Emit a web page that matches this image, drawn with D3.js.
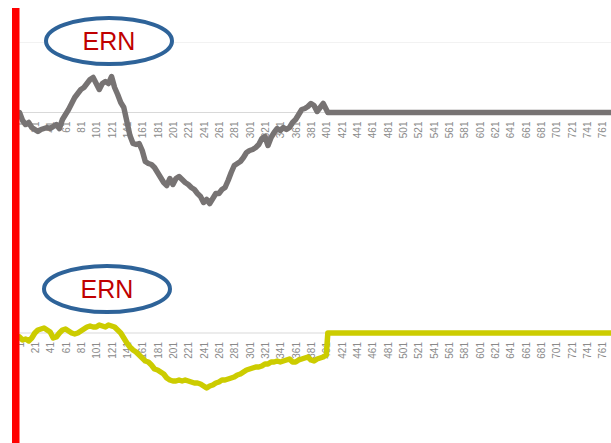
<!DOCTYPE html>
<html>
<head>
<meta charset="utf-8">
<script src="https://cdn.jsdelivr.net/npm/d3@7"></script>
<style>
  body { margin: 0; background: #fff; }
  svg { display: block; }
</style>
</head>
<body>
<div id="chart"></div>
<script>
// sample index (every 4th point of the waveform, 1..401)
const sampleIdx = d3.range(1, 402, 4);

// top waveform (grey)
const topValues = [0.0,-0.8,-1.2,-1.0,-1.5,-1.7,-1.9,-1.7,-1.6,-1.5,-1.6,-1.4,-1.2,-1.6,-0.7,-0.2,0.3,0.9,1.5,1.9,
  2.3,2.5,2.9,3.3,3.5,2.9,2.3,2.9,3.1,2.9,3.6,2.5,1.8,1.0,0.5,-0.9,-2.3,-3.1,-3.2,-3.1,
  -3.8,-4.9,-5.1,-5.2,-5.5,-6.0,-6.5,-7.0,-7.3,-6.6,-7.2,-6.6,-6.4,-6.7,-7.0,-7.2,-7.5,-7.7,-8.1,-8.4,
  -9.0,-8.7,-9.1,-8.6,-8.1,-8.1,-7.7,-7.5,-6.8,-6.0,-5.3,-5.1,-4.9,-4.5,-4.0,-3.8,-3.7,-3.5,-3.2,-2.6,
  -2.4,-3.3,-2.5,-2.0,-1.6,-1.8,-1.5,-1.7,-1.5,-1.0,-0.7,-0.2,0.3,0.4,0.6,0.9,0.7,0.1,0.5,0.9,0.3];

// bottom waveform (yellow)
const bottomValues = [-0.4,-0.7,-0.6,-0.8,-0.5,0.0,0.3,0.4,0.5,0.3,0.1,-0.5,-0.4,0.0,0.3,0.4,0.2,0.0,-0.1,0.0,
  0.2,0.4,0.6,0.7,0.6,0.6,0.8,0.7,0.6,0.8,0.7,0.6,0.3,0.0,-0.5,-1.0,-1.4,-1.7,-1.9,-2.2,
  -2.5,-2.8,-2.9,-3.2,-3.6,-3.7,-3.9,-4.1,-4.5,-4.7,-4.8,-4.8,-4.7,-4.8,-4.7,-4.8,-4.9,-5.0,-5.0,-5.1,
  -5.3,-5.5,-5.3,-5.2,-5.0,-4.9,-4.7,-4.7,-4.6,-4.5,-4.4,-4.2,-4.1,-3.9,-3.7,-3.6,-3.5,-3.4,-3.4,-3.3,
  -3.1,-3.1,-2.9,-2.9,-2.8,-2.9,-2.8,-2.7,-2.6,-2.9,-2.9,-2.7,-2.6,-2.5,-2.4,-2.7,-2.8,-2.6,-2.5,-2.4,-2.2];

// flat tail after the epoch
const tailIdx = [403, 800];
const tailValues = [0, 0];

// category tick labels
const tickLabels = d3.range(1, 762, 20);

const panelTitle = 'ERN';

const width = 611, height = 443;
const svg = d3.select('#chart').append('svg')
  .attr('width', width).attr('height', height)
  .style('font-family', 'Liberation Sans, Arial, sans-serif');

const x = d3.scaleLinear().domain([1, 781]).range([19.5, 19.5 + 780 * 0.767]);

function drawPanel(values, color, yDomain, yRange, ellipse, grid) {
  const y = d3.scaleLinear().domain(yDomain).range(yRange);
  const g = svg.append('g');

  if (grid) {
    g.append('line')
      .attr('x1', x(1)).attr('x2', width)
      .attr('y1', y(yDomain[1])).attr('y2', y(yDomain[1]))
      .attr('stroke', '#f2f2f2').attr('stroke-width', 1);
  }

  const axis = d3.axisBottom(x).tickValues(tickLabels).tickSize(0).tickFormat(d3.format('d'));
  const ax = g.append('g').attr('transform', `translate(0,${y(0)})`).call(axis);
  ax.select('.domain').attr('stroke', '#d9d9d9').attr('d', `M${x(1)},0H${width}`);
  ax.selectAll('text')
    .attr('transform', 'rotate(-90)')
    .attr('x', -9).attr('y', 0).attr('dy', '0.35em')
    .attr('text-anchor', 'end')
    .attr('fill', '#8a8a8a')
    .style('font-size', '10px');

  const pts = sampleIdx.map((d, i) => [d, values[i]])
    .concat(tailIdx.map((d, i) => [d, tailValues[i]]));
  const line = d3.line().x(d => x(d[0])).y(d => y(d[1]));
  g.append('path').datum(pts)
    .attr('d', line)
    .attr('fill', 'none')
    .attr('stroke', color)
    .attr('stroke-width', 5.5)
    .attr('stroke-linejoin', 'round')
    .attr('stroke-linecap', 'round');

  g.append('ellipse')
    .attr('cx', ellipse.cx).attr('cy', ellipse.cy)
    .attr('rx', 63).attr('ry', 23)
    .attr('fill', '#fff')
    .attr('stroke', '#2e6399')
    .attr('stroke-width', 4);
  g.append('text')
    .attr('x', ellipse.cx).attr('y', ellipse.cy)
    .attr('dy', '0.36em')
    .attr('text-anchor', 'middle')
    .attr('fill', '#c00000')
    .style('font-size', '25px')
    .style('font-weight', '500')
    .text(panelTitle);
}

drawPanel(topValues, '#777373', [-10, 7], [212.5, 42.5], { cx: 109, cy: 41 }, true);
drawPanel(bottomValues, '#cccc00', [-6, 3], [393, 303], { cx: 107, cy: 289 }, false);

// red marker bar
svg.append('rect')
  .attr('x', 12).attr('y', 8)
  .attr('width', 7.5).attr('height', height - 8)
  .attr('fill', '#ff0000');
</script>
</body>
</html>
